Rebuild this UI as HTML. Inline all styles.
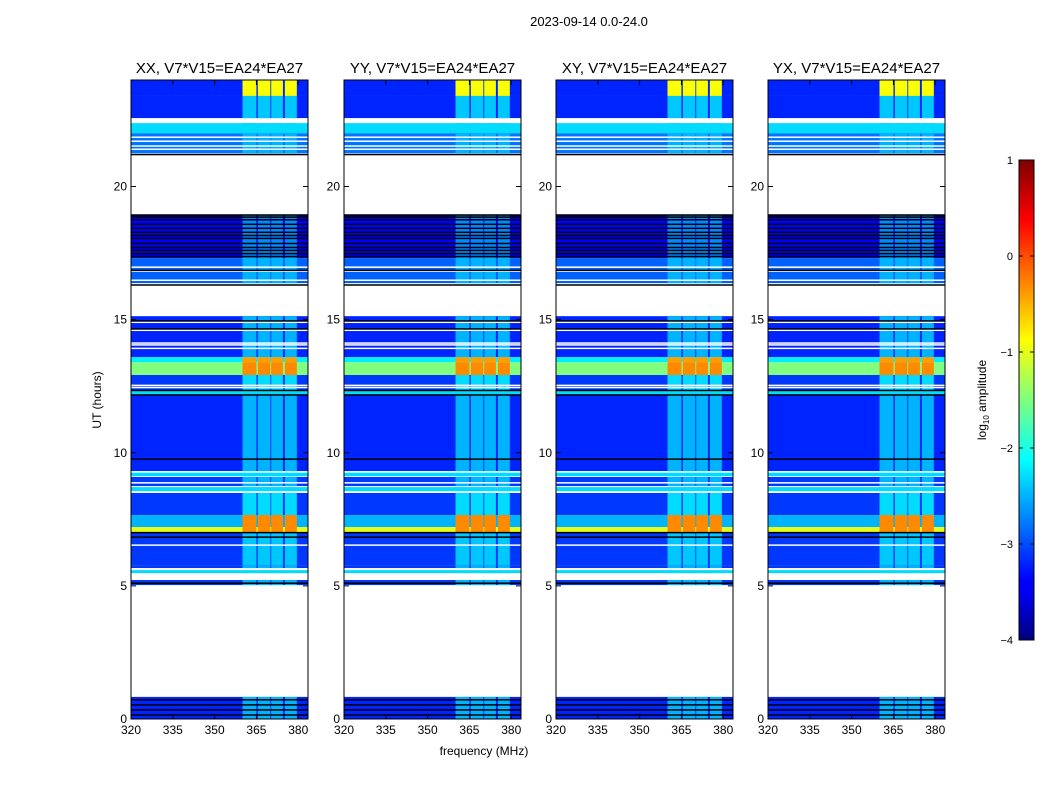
<!DOCTYPE html>
<html><head><meta charset="utf-8">
<style>
html,body{margin:0;padding:0;background:#fff;}
svg text{font-family:"Liberation Sans",sans-serif;fill:#000;}
</style></head>
<body>
<svg id="fig" width="1050" height="800" viewBox="0 0 1050 800" xmlns="http://www.w3.org/2000/svg">
<defs>
<linearGradient id="jet" x1="0" y1="1" x2="0" y2="0">
<stop offset="0" stop-color="#00007f"/><stop offset="0.11" stop-color="#0000ff"/>
<stop offset="0.125" stop-color="#0000ff"/><stop offset="0.375" stop-color="#00ffff"/>
<stop offset="0.5" stop-color="#7fff7f"/><stop offset="0.625" stop-color="#ffff00"/>
<stop offset="0.875" stop-color="#ff0000"/><stop offset="1" stop-color="#7f0000"/>
</linearGradient>
</defs>
<text x="589" y="26" font-size="13" text-anchor="middle">2023-09-14 0.0-24.0</text>
<g id="panels"></g>
<text x="484" y="755" font-size="12" text-anchor="middle">frequency (MHz)</text>
<text transform="translate(101,400) rotate(-90)" font-size="12" text-anchor="middle">UT (hours)</text>
<g id="cbar">
<rect x="1019" y="160" width="15" height="480" fill="url(#jet)" stroke="#000" stroke-width="1"/>
<text transform="translate(986,400) rotate(-90)" font-size="12" text-anchor="middle">log<tspan font-size="8" dy="3">10</tspan><tspan dy="-3"> amplitude</tspan></text>
</g>
</svg>
<script>
const panelTitles = ["XX, V7*V15=EA24*EA27","YY, V7*V15=EA24*EA27","XY, V7*V15=EA24*EA27","YX, V7*V15=EA24*EA27"];
const xTicks = [320,335,350,365,380];
const yTicks = [0,5,10,15,20];
const cbarTicks = [1,0,-1,-2,-3,-4];
const rowStart = [23.4,22.57,22.0,21.25,17.31,16.37,13.59,13.4,12.92,12.35,12.17,9.31,9.12,8.75,8.56,7.66,7.21,7.02,5.78,5.67,5.48,5.03,0.0];
const rowEnd   = [24.0,23.4,22.38,22.0,18.93,17.31,15.13,13.59,13.4,12.92,12.32,12.17,9.31,9.09,8.71,8.49,7.66,7.21,7.02,5.78,5.6,5.22,0.83];
const rowLevel = [-3.2,-3.2,-2.3,-2.8,-3.4,-2.9,-3.2,-2.2,-1.5,-3.1,-2.3,-3.2,-2.3,-3.1,-2.3,-3.1,-2.5,-1.0,-3.1,-3.1,-2.3,-3.1,-3.2];
const rfiLevel = [-0.9,-2.4,-2.3,-2.5,-2.7,-2.5,-2.5,-0.4,-0.3,-2.3,-2.3,-2.5,-2.3,-2.5,-2.3,-2.3,-0.3,-0.3,-2.4,-2.5,-2.3,-2.5,-2.5];
const rfiLo = [360,365.5,370.3,375.2];
const rfiHi = [365,370,374.5,379.5];
const whiteLines = [21.85,21.7,21.52,21.4,16.97,16.82,16.48,14.9,14.6,14.12,14.05,13.92,12.53,12.45,9.28,8.87,6.53,5.62];
const blackLines = [21.2,18.93,18.85,18.75,18.58,18.43,18.28,18.16,18.05,17.86,17.71,17.6,17.48,17.37,16.85,16.3,14.95,14.65,12.34,12.17,9.76,7.0,6.83,5.1,0.72,0.53,0.34,0.15];

const fMin=320,fMax=383.5,hMin=0,hMax=24;
const panelX=[131,344,556,768], axTop=80, axBottom=719, pw=177;
function xs(px,f){return px+(f-fMin)/(fMax-fMin)*pw;}
function ys(h){return axBottom-(h-hMin)/(hMax-hMin)*(axBottom-axTop);}
function jet(v){
  let t=Math.max(0,Math.min(1,(v+4)/5));
  const c=x=>Math.round(255*Math.max(0,Math.min(1,x)));
  return `rgb(${c(1.5-Math.abs(4*t-3))},${c(1.5-Math.abs(4*t-2))},${c(1.5-Math.abs(4*t-1))})`;
}
const NS="http://www.w3.org/2000/svg";
function mk(tag,attrs,parent){const e=document.createElementNS(NS,tag);for(const k in attrs)e.setAttribute(k,attrs[k]);parent.appendChild(e);return e;}
const g=document.getElementById('panels');
panelX.forEach((px,pi)=>{
  const pg=mk('g',{},g);
  
  
  for(let i=0;i<rowStart.length;i++){
    const y1=ys(rowEnd[i]), y2=ys(rowStart[i]);
    const r=mk('rect',{x:px,y:y1,width:pw,height:y2-y1,fill:jet(rowLevel[i])},pg);
    
    
    for(let j=0;j<rfiLo.length;j++){
      const x1=xs(px,rfiLo[j]),x2=xs(px,rfiHi[j]);
      const rr=mk('rect',{x:x1,y:y1,width:x2-x1,height:y2-y1,fill:jet(rfiLevel[i])},pg);
      
      
    }
  }
  whiteLines.forEach(h=>{mk('rect',{x:px,y:ys(h)-0.75,width:pw,height:1.5,fill:'#fff'},pg);});
  blackLines.forEach(h=>{mk('rect',{x:px,y:ys(h)-0.75,width:pw,height:1.5,fill:'#000'},pg);});
  const fr=mk('rect',{x:px,y:axTop,width:pw,height:axBottom-axTop,fill:'none',stroke:'#000','stroke-width':1},pg);
  
  
  const t=mk('text',{x:px+pw/2,y:axTop-7,'font-size':15,'text-anchor':'middle'},pg);
  t.textContent=panelTitles[pi];
  
  
  xTicks.forEach(f=>{
    const x=xs(px,f);
    mk('line',{x1:x,x2:x,y1:axBottom,y2:axBottom-5,stroke:'#000'},pg);
    mk('line',{x1:x,x2:x,y1:axTop,y2:axTop+5,stroke:'#000'},pg);
    const l=mk('text',{x:x,y:axBottom+15,'font-size':12,'text-anchor':'middle'},pg);
    l.textContent=f;
    
    
  });
  yTicks.forEach(h=>{
    const y=ys(h);
    mk('line',{x1:px,x2:px+5,y1:y,y2:y,stroke:'#000'},pg);
    mk('line',{x1:px+pw,x2:px+pw-5,y1:y,y2:y,stroke:'#000'},pg);
    const l=mk('text',{x:px-4,y:y+4,'font-size':12,'text-anchor':'end'},pg);
    l.textContent=h;
    
    
  });
});
const cb=document.getElementById('cbar');
cbarTicks.forEach(v=>{
  const y=160+(1-v)/5*480;
  mk('line',{x1:1019,x2:1023,y1:y,y2:y,stroke:'#000'},cb);
  mk('line',{x1:1034,x2:1030,y1:y,y2:y,stroke:'#000'},cb);
  const l=mk('text',{x:1013,y:y+4,'font-size':11,'text-anchor':'end'},cb);
  l.textContent=v<0?'\u2212'+(-v):String(v);
  
  
});
</script>
</body></html>
